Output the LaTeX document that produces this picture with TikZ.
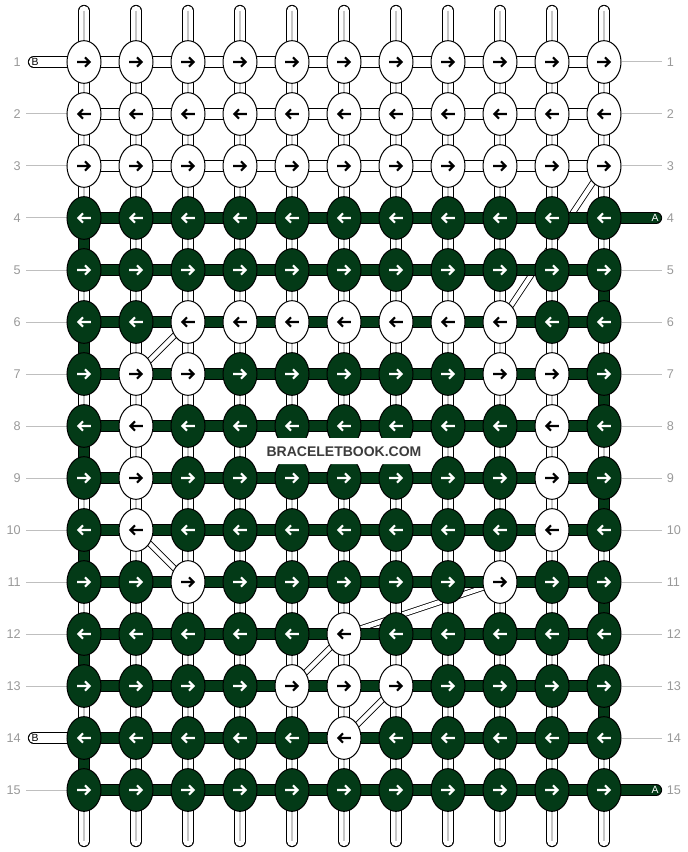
\documentclass[tikz,border=0pt]{standalone}
\usepackage{fontspec}
\setmainfont{Liberation Sans}
\usetikzlibrary{shapes.geometric}

\definecolor{knotgreen}{RGB}{3,58,23}
\definecolor{rowgray}{RGB}{153,153,153}
\definecolor{markgray}{RGB}{60,60,60}

\pgfdeclarelayer{strings}
\pgfsetlayers{strings,main}

% 1 = white knot, 0 = green knot, eleven knots per row
\def\knotpattern{{%
1,1,1,1,1,1,1,1,1,1,1,%
1,1,1,1,1,1,1,1,1,1,1,%
1,1,1,1,1,1,1,1,1,1,1,%
0,0,0,0,0,0,0,0,0,0,0,%
0,0,0,0,0,0,0,0,0,0,0,%
0,0,1,1,1,1,1,1,1,0,0,%
0,1,1,0,0,0,0,0,1,1,0,%
0,1,0,0,0,0,0,0,0,1,0,%
0,1,0,0,0,0,0,0,0,1,0,%
0,1,0,0,0,0,0,0,0,1,0,%
0,0,1,0,0,0,0,0,1,0,0,%
0,0,0,0,0,1,0,0,0,0,0,%
0,0,0,0,1,1,1,0,0,0,0,%
0,0,0,0,0,1,0,0,0,0,0,%
0,0,0,0,0,0,0,0,0,0,0%
}}

\tikzset{
    knotarrow/.pic={
        \draw[line width=1.55pt, line join=miter] (-6.8,0) -- (5.6,0) (1,-4.6) -- (5.6,0) -- (1,4.6);
    }
}

\begin{document}
\begin{tikzpicture}[x=0.75pt, y=-0.75pt]
    \tikzstyle{knot} = [ellipse, draw=black, line width=0.75pt, inner sep=0pt, minimum width=25.5pt, minimum height=32pt]
    \tikzstyle{strW} = [draw=black, line width=0.75pt, double=white, double distance=7.3pt]
    \tikzstyle{strG} = [strW, double=knotgreen]
    \tikzstyle{core} = [draw=black!22, line width=1.1pt]
    \tikzstyle{cross} = [draw=black, line width=0.6pt, double=white, double distance=3.4pt]
    \tikzstyle{guide} = [draw=black!25, line width=0.75pt]
    \tikzstyle{rownum} = [text=rowgray, font=\fontsize{9.5}{9.5}\selectfont, inner sep=0pt]
    \tikzstyle{tag} = [font=\fontsize{7.8}{7.8}\selectfont, inner sep=0pt]

    \useasboundingbox (0,0) rectangle (688,852);

    % knots: odd rows point right, even rows point left
    \foreach \r in {1,...,15} {
        \foreach \c in {1,...,11} {
            \pgfmathtruncatemacro{\w}{\knotpattern[(\r-1)*11+\c-1]}
            \ifnum\w=1 \def\kf{white}\def\ac{black}\else \def\kf{knotgreen}\def\ac{white}\fi
            \pgfmathtruncatemacro{\ang}{180*(1-mod(\r,2))}
            \node[knot, fill=\kf] (K\r_\c) at ({32+52*\c}, {10+52*\r}) {};
            \pic[color=\ac, rotate=\ang] at (K\r_\c) {knotarrow};
        }
    }

    \begin{pgfonlayer}{strings}
        % row numbers and guide lines
        \foreach \r in {1,...,15} {
            \node[rownum, anchor=east] (L\r) at (21, {10+52*\r}) {\r};
            \node[rownum, anchor=west] (R\r) at (666.5, {10+52*\r}) {\r};
        }
        \foreach \r in {2,...,13, 15} {
            \coordinate (GL\r) at (26, {10+52*\r});
            \draw[guide] (GL\r) -- (K\r_1.west);
        }
        \foreach \r in {1, 2, 3, 5, 6, ..., 14} {
            \coordinate (GR\r) at (662, {10+52*\r});
            \draw[guide] (K\r_11.east) -- (GR\r);
        }

        % strands that cross behind the knots
        \foreach \ra/\ca/\rb/\cb in {3/11/6/9, 6/3/7/2, 10/2/11/3, 11/9/12/6, 12/6/13/5, 13/7/14/6} {
            \draw[cross] (K\ra_\ca.center) -- (K\rb_\cb.center);
        }

        % vertical strands, the green one runs down the edges
        \foreach \c in {1,...,11} {
            \coordinate (T\c) at ({32+52*\c}, 10.75);
            \coordinate (E\c) at ({32+52*\c}, 841.25);
            \draw[strW, line cap=round] (T\c) -- (K1_\c.center);
            \draw[core] (T\c) -- (K1_\c.center);
            \draw[strW, line cap=round] (K15_\c.center) -- (E\c);
            \draw[core] (K15_\c.center) -- (E\c);
            \foreach \r in {1,...,14} {
                \pgfmathtruncatemacro{\rn}{\r+1}
                \pgfmathtruncatemacro{\g}{(\c==1)*(mod(\r,2)==0)*(\r>=4) + (\c==11)*(mod(\r,2)==1)*(\r>=5)}
                \ifnum\g=1
                    \draw[strG] (K\r_\c.center) -- (K\rn_\c.center);
                \else
                    \draw[strW] (K\r_\c.center) -- (K\rn_\c.center);
                    \draw[core] (K\r_\c.center) -- (K\rn_\c.center);
                \fi
            }
        }

        % horizontal strands
        \foreach \r in {1,...,15} {
            \foreach \c in {1,...,10} {
                \pgfmathtruncatemacro{\cn}{\c+1}
                \ifnum\r<4
                    \draw[strW] (K\r_\c.center) -- (K\r_\cn.center);
                \else
                    \draw[strG] (K\r_\c.center) -- (K\r_\cn.center);
                \fi
            }
        }

        % loose ends of strings B and A
        \foreach \r in {1, 14} {
            \coordinate (SB\r) at (33.75, {10+52*\r});
            \draw[strW, line cap=round] (SB\r) -- (K\r_1.center);
            \node[tag] (TB\r) at (35, {10+52*\r}) {B};
        }
        \foreach \r in {4, 15} {
            \coordinate (SA\r) at (656.25, {10+52*\r});
            \draw[strG, line cap=round] (K\r_11.center) -- (SA\r);
            \node[tag, text=white] (TA\r) at (655, {10+52*\r}) {A};
        }
    \end{pgfonlayer}

    % site mark
    \node[fill=white, rounded corners=6pt, inner xsep=7.5pt, inner ysep=6pt, text height=7.5pt, text depth=0pt,
          text=markgray, font=\bfseries\fontsize{10.5}{10.5}\selectfont] (mark) at (344, 451) {BRACELETBOOK.COM};

\end{tikzpicture}
\end{document}
